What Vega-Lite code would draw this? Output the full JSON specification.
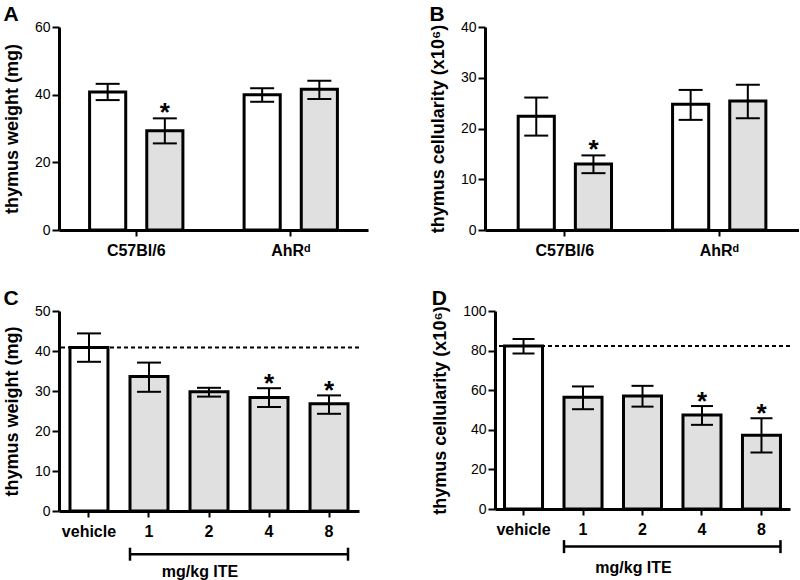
{
  "$schema": "https://vega.github.io/schema/vega-lite/v6.json",
  "padding": {"left": 3, "top": 4, "right": 0, "bottom": 0},
  "background": "white",
  "datasets": {
    "a": [
      {"strain": "C57Bl/6", "treatment": "vehicle", "mean": 40.8, "lo": 38.4, "hi": 43.2, "sig": false},
      {"strain": "C57Bl/6", "treatment": "ITE", "mean": 29.3, "lo": 25.6, "hi": 33.0, "sig": true},
      {"strain": "AhRᵈ", "treatment": "vehicle", "mean": 40.0, "lo": 37.9, "hi": 41.9, "sig": false},
      {"strain": "AhRᵈ", "treatment": "ITE", "mean": 41.6, "lo": 38.7, "hi": 44.1, "sig": false}
    ],
    "b": [
      {"strain": "C57Bl/6", "treatment": "vehicle", "mean": 22.4, "lo": 18.6, "hi": 26.1, "sig": false},
      {"strain": "C57Bl/6", "treatment": "ITE", "mean": 13.0, "lo": 11.2, "hi": 14.7, "sig": true},
      {"strain": "AhRᵈ", "treatment": "vehicle", "mean": 24.8, "lo": 21.7, "hi": 27.6, "sig": false},
      {"strain": "AhRᵈ", "treatment": "ITE", "mean": 25.4, "lo": 22.0, "hi": 28.6, "sig": false}
    ],
    "c": [
      {"dose": "vehicle", "treatment": "vehicle", "mean": 40.9, "lo": 37.3, "hi": 44.4, "sig": false},
      {"dose": "1", "treatment": "ITE", "mean": 33.6, "lo": 29.8, "hi": 37.1, "sig": false},
      {"dose": "2", "treatment": "ITE", "mean": 29.8, "lo": 28.6, "hi": 30.8, "sig": false},
      {"dose": "4", "treatment": "ITE", "mean": 28.4, "lo": 26.0, "hi": 30.7, "sig": true},
      {"dose": "8", "treatment": "ITE", "mean": 26.8, "lo": 24.3, "hi": 28.9, "sig": true}
    ],
    "d": [
      {"dose": "vehicle", "treatment": "vehicle", "mean": 82.3, "lo": 78.5, "hi": 85.8, "sig": false},
      {"dose": "1", "treatment": "ITE", "mean": 56.5, "lo": 50.4, "hi": 61.9, "sig": false},
      {"dose": "2", "treatment": "ITE", "mean": 57.1, "lo": 51.7, "hi": 62.2, "sig": false},
      {"dose": "4", "treatment": "ITE", "mean": 47.5, "lo": 42.5, "hi": 52.0, "sig": true},
      {"dose": "8", "treatment": "ITE", "mean": 37.3, "lo": 28.5, "hi": 45.8, "sig": true}
    ]
  },
  "spacing": 30,
  "vconcat": [
    {
      "spacing": 61,
      "hconcat": [
        {
          "width": 309, "height": 203,
          "title": "A",
          "data": {"name": "a"},
          "encoding": {
            "x": {"field": "strain", "type": "nominal", "sort": null, "axis": {"title": null}, "scale": {"paddingInner": 0.396, "paddingOuter": 0.198}},
            "xOffset": {"field": "treatment", "type": "nominal", "sort": null, "scale": {"domain": ["vehicle", "ITE"], "paddingInner": 0.368, "paddingOuter": 0}}
          },
          "layer": [
            {"mark": {"type": "bar", "stroke": "black", "strokeWidth": 3},
             "encoding": {
               "y": {"field": "mean", "type": "quantitative", "stack": null, "scale": {"domain": [0, 60]}, "axis": {"title": "thymus weight (mg)", "values": [0, 20, 40, 60]}},
               "fill": {"field": "treatment", "type": "nominal", "scale": {"domain": ["vehicle", "ITE"], "range": ["#ffffff", "#e0e0e0"]}, "legend": null}
             }},
            {"mark": {"type": "rule", "strokeWidth": 2, "color": "black"},
             "encoding": {"y": {"field": "lo", "type": "quantitative"}, "y2": {"field": "hi"}}},
            {"mark": {"type": "tick", "orient": "horizontal", "size": 24, "thickness": 2, "color": "black", "opacity": 1},
             "encoding": {"y": {"field": "lo", "type": "quantitative"}}},
            {"mark": {"type": "tick", "orient": "horizontal", "size": 24, "thickness": 2, "color": "black", "opacity": 1},
             "encoding": {"y": {"field": "hi", "type": "quantitative"}}},
            {"transform": [{"filter": "datum.sig"}],
             "mark": {"type": "text", "text": "*", "fontSize": 26, "fontWeight": "bold", "baseline": "alphabetic", "dy": 3, "color": "black"},
             "encoding": {"y": {"field": "hi", "type": "quantitative"}}}
          ]
        },
        {
          "width": 314, "height": 203,
          "title": "B",
          "data": {"name": "b"},
          "encoding": {
            "x": {"field": "strain", "type": "nominal", "sort": null, "axis": {"title": null}, "scale": {"paddingInner": 0.396, "paddingOuter": 0.215}},
            "xOffset": {"field": "treatment", "type": "nominal", "sort": null, "scale": {"domain": ["vehicle", "ITE"], "paddingInner": 0.368, "paddingOuter": 0}}
          },
          "layer": [
            {"mark": {"type": "bar", "stroke": "black", "strokeWidth": 3},
             "encoding": {
               "y": {"field": "mean", "type": "quantitative", "stack": null, "scale": {"domain": [0, 40]}, "axis": {"title": "thymus cellularity (x10⁶)", "values": [0, 10, 20, 30, 40]}},
               "fill": {"field": "treatment", "type": "nominal", "scale": {"domain": ["vehicle", "ITE"], "range": ["#ffffff", "#e0e0e0"]}, "legend": null}
             }},
            {"mark": {"type": "rule", "strokeWidth": 2, "color": "black"},
             "encoding": {"y": {"field": "lo", "type": "quantitative"}, "y2": {"field": "hi"}}},
            {"mark": {"type": "tick", "orient": "horizontal", "size": 24, "thickness": 2, "color": "black", "opacity": 1},
             "encoding": {"y": {"field": "lo", "type": "quantitative"}}},
            {"mark": {"type": "tick", "orient": "horizontal", "size": 24, "thickness": 2, "color": "black", "opacity": 1},
             "encoding": {"y": {"field": "hi", "type": "quantitative"}}},
            {"transform": [{"filter": "datum.sig"}],
             "mark": {"type": "text", "text": "*", "fontSize": 26, "fontWeight": "bold", "baseline": "alphabetic", "dy": 3, "color": "black"},
             "encoding": {"y": {"field": "hi", "type": "quantitative"}}}
          ]
        }
      ]
    },
    {
      "spacing": 71,
      "hconcat": [
        {
          "width": 300, "height": 200,
          "title": "C",
          "data": {"name": "c"},
          "layer": [
            {"transform": [{"filter": "datum.dose == 'vehicle'"}],
             "mark": {"type": "rule", "strokeDash": [4, 3], "strokeWidth": 2, "color": "black"},
             "encoding": {"y": {"field": "mean", "type": "quantitative", "scale": {"domain": [0, 50]}, "axis": {"title": "thymus weight (mg)", "values": [0, 10, 20, 30, 40, 50], "tickCount": 6}}}},
            {"mark": {"type": "bar", "stroke": "black", "strokeWidth": 3},
             "encoding": {
               "x": {"field": "dose", "type": "nominal", "axis": {"title": null}, "scale": {"domain": ["vehicle", "1", "2", "4", "8"], "paddingInner": 0.367, "paddingOuter": 0.183}},
               "y": {"field": "mean", "type": "quantitative", "stack": null, "scale": {"domain": [0, 50]}, "axis": {"title": "thymus weight (mg)", "values": [0, 10, 20, 30, 40, 50], "tickCount": 6}},
               "fill": {"field": "treatment", "type": "nominal", "scale": {"domain": ["vehicle", "ITE"], "range": ["#ffffff", "#e0e0e0"]}, "legend": null}
             }},
            {"mark": {"type": "rule", "strokeWidth": 2, "color": "black"},
             "encoding": {"x": {"field": "dose", "type": "nominal"}, "y": {"field": "lo", "type": "quantitative", "axis": {"title": "thymus weight (mg)", "values": [0, 10, 20, 30, 40, 50], "tickCount": 6}}, "y2": {"field": "hi"}}},
            {"mark": {"type": "tick", "orient": "horizontal", "size": 24, "thickness": 2, "color": "black", "opacity": 1},
             "encoding": {"x": {"field": "dose", "type": "nominal"}, "y": {"field": "lo", "type": "quantitative", "axis": {"title": "thymus weight (mg)", "values": [0, 10, 20, 30, 40, 50], "tickCount": 6}}}},
            {"mark": {"type": "tick", "orient": "horizontal", "size": 24, "thickness": 2, "color": "black", "opacity": 1},
             "encoding": {"x": {"field": "dose", "type": "nominal"}, "y": {"field": "hi", "type": "quantitative", "axis": {"title": "thymus weight (mg)", "values": [0, 10, 20, 30, 40, 50], "tickCount": 6}}}},
            {"transform": [{"filter": "datum.sig"}],
             "mark": {"type": "text", "text": "*", "fontSize": 26, "fontWeight": "bold", "baseline": "alphabetic", "dy": 4, "color": "black"},
             "encoding": {"x": {"field": "dose", "type": "nominal"}, "y": {"field": "hi", "type": "quantitative", "axis": {"title": "thymus weight (mg)", "values": [0, 10, 20, 30, 40, 50], "tickCount": 6}}}},
            {"transform": [{"filter": "datum.dose == 'vehicle'"}],
             "mark": {"type": "rule", "strokeWidth": 2.5, "color": "black"},
             "encoding": {"x": {"datum": "1", "type": "nominal", "bandPosition": 0}, "x2": {"datum": "8", "bandPosition": 1}, "y": {"datum": -10.8, "type": "quantitative", "axis": {"title": "thymus weight (mg)", "values": [0, 10, 20, 30, 40, 50], "tickCount": 6}}}},
            {"transform": [{"filter": "datum.dose == 'vehicle'"}],
             "mark": {"type": "tick", "orient": "vertical", "size": 13, "thickness": 2.5, "color": "black", "opacity": 1},
             "encoding": {"x": {"datum": "1", "type": "nominal", "bandPosition": 0}, "y": {"datum": -10.8, "type": "quantitative", "axis": {"title": "thymus weight (mg)", "values": [0, 10, 20, 30, 40, 50], "tickCount": 6}}}},
            {"transform": [{"filter": "datum.dose == 'vehicle'"}],
             "mark": {"type": "tick", "orient": "vertical", "size": 13, "thickness": 2.5, "color": "black", "opacity": 1},
             "encoding": {"x": {"datum": "8", "type": "nominal", "bandPosition": 1}, "y": {"datum": -10.8, "type": "quantitative", "axis": {"title": "thymus weight (mg)", "values": [0, 10, 20, 30, 40, 50], "tickCount": 6}}}},
            {"transform": [{"filter": "datum.dose == 'vehicle'"}],
             "mark": {"type": "text", "text": "mg/kg ITE", "fontSize": 16, "fontWeight": "bold", "baseline": "middle", "dx": -9, "color": "black"},
             "encoding": {"x": {"datum": "2", "type": "nominal"}, "y": {"datum": -15.3, "type": "quantitative", "axis": {"title": "thymus weight (mg)", "values": [0, 10, 20, 30, 40, 50], "tickCount": 6}}}}
          ]
        },
        {
          "width": 295, "height": 198,
          "title": "D",
          "data": {"name": "d"},
          "layer": [
            {"transform": [{"filter": "datum.dose == 'vehicle'"}],
             "mark": {"type": "rule", "strokeDash": [4, 3], "strokeWidth": 2, "color": "black"},
             "encoding": {"y": {"field": "mean", "type": "quantitative", "scale": {"domain": [0, 100]}, "axis": {"title": "thymus cellularity (x10⁶)", "values": [0, 20, 40, 60, 80, 100], "tickCount": 6}}}},
            {"mark": {"type": "bar", "stroke": "black", "strokeWidth": 3},
             "encoding": {
               "x": {"field": "dose", "type": "nominal", "axis": {"title": null}, "scale": {"domain": ["vehicle", "1", "2", "4", "8"], "paddingInner": 0.361, "paddingOuter": 0.16}},
               "y": {"field": "mean", "type": "quantitative", "stack": null, "scale": {"domain": [0, 100]}, "axis": {"title": "thymus cellularity (x10⁶)", "values": [0, 20, 40, 60, 80, 100], "tickCount": 6}},
               "fill": {"field": "treatment", "type": "nominal", "scale": {"domain": ["vehicle", "ITE"], "range": ["#ffffff", "#e0e0e0"]}, "legend": null}
             }},
            {"mark": {"type": "rule", "strokeWidth": 2, "color": "black"},
             "encoding": {"x": {"field": "dose", "type": "nominal"}, "y": {"field": "lo", "type": "quantitative", "axis": {"title": "thymus cellularity (x10⁶)", "values": [0, 20, 40, 60, 80, 100], "tickCount": 6}}, "y2": {"field": "hi"}}},
            {"mark": {"type": "tick", "orient": "horizontal", "size": 22, "thickness": 2, "color": "black", "opacity": 1},
             "encoding": {"x": {"field": "dose", "type": "nominal"}, "y": {"field": "lo", "type": "quantitative", "axis": {"title": "thymus cellularity (x10⁶)", "values": [0, 20, 40, 60, 80, 100], "tickCount": 6}}}},
            {"mark": {"type": "tick", "orient": "horizontal", "size": 22, "thickness": 2, "color": "black", "opacity": 1},
             "encoding": {"x": {"field": "dose", "type": "nominal"}, "y": {"field": "hi", "type": "quantitative", "axis": {"title": "thymus cellularity (x10⁶)", "values": [0, 20, 40, 60, 80, 100], "tickCount": 6}}}},
            {"transform": [{"filter": "datum.sig"}],
             "mark": {"type": "text", "text": "*", "fontSize": 26, "fontWeight": "bold", "baseline": "alphabetic", "dy": 4, "color": "black"},
             "encoding": {"x": {"field": "dose", "type": "nominal"}, "y": {"field": "hi", "type": "quantitative", "axis": {"title": "thymus cellularity (x10⁶)", "values": [0, 20, 40, 60, 80, 100], "tickCount": 6}}}},
            {"transform": [{"filter": "datum.dose == 'vehicle'"}],
             "mark": {"type": "rule", "strokeWidth": 2.5, "color": "black"},
             "encoding": {"x": {"datum": "1", "type": "nominal", "bandPosition": 0}, "x2": {"datum": "8", "bandPosition": 1}, "y": {"datum": -19, "type": "quantitative", "axis": {"title": "thymus cellularity (x10⁶)", "values": [0, 20, 40, 60, 80, 100], "tickCount": 6}}}},
            {"transform": [{"filter": "datum.dose == 'vehicle'"}],
             "mark": {"type": "tick", "orient": "vertical", "size": 13, "thickness": 2.5, "color": "black", "opacity": 1},
             "encoding": {"x": {"datum": "1", "type": "nominal", "bandPosition": 0}, "y": {"datum": -19, "type": "quantitative", "axis": {"title": "thymus cellularity (x10⁶)", "values": [0, 20, 40, 60, 80, 100], "tickCount": 6}}}},
            {"transform": [{"filter": "datum.dose == 'vehicle'"}],
             "mark": {"type": "tick", "orient": "vertical", "size": 13, "thickness": 2.5, "color": "black", "opacity": 1},
             "encoding": {"x": {"datum": "8", "type": "nominal", "bandPosition": 1}, "y": {"datum": -19, "type": "quantitative", "axis": {"title": "thymus cellularity (x10⁶)", "values": [0, 20, 40, 60, 80, 100], "tickCount": 6}}}},
            {"transform": [{"filter": "datum.dose == 'vehicle'"}],
             "mark": {"type": "text", "text": "mg/kg ITE", "fontSize": 16, "fontWeight": "bold", "baseline": "middle", "dx": -9, "color": "black"},
             "encoding": {"x": {"datum": "2", "type": "nominal"}, "y": {"datum": -30, "type": "quantitative", "axis": {"title": "thymus cellularity (x10⁶)", "values": [0, 20, 40, 60, 80, 100], "tickCount": 6}}}}
          ]
        }
      ]
    }
  ],
  "config": {
    "font": "Liberation Sans",
    "view": {"stroke": null},
    "axis": {"domainColor": "black", "domainWidth": 3, "tickColor": "black", "tickWidth": 2, "labelColor": "black", "titleColor": "black", "grid": false, "labelFont": "Liberation Sans", "titleFont": "Liberation Sans", "labelOverlap": false},
    "axisY": {"tickSize": 7, "labelFontSize": 14, "labelPadding": 2, "titleFontSize": 18, "titleFontWeight": "bold", "titlePadding": 13},
    "axisX": {"tickSize": 6, "labelFontSize": 16, "labelFontWeight": "bold", "labelPadding": 6, "labelAngle": 0},
    "title": {"anchor": "start", "frame": "bounds", "fontSize": 21, "fontWeight": "bold", "font": "Liberation Sans", "color": "black", "offset": -5}
  }
}
